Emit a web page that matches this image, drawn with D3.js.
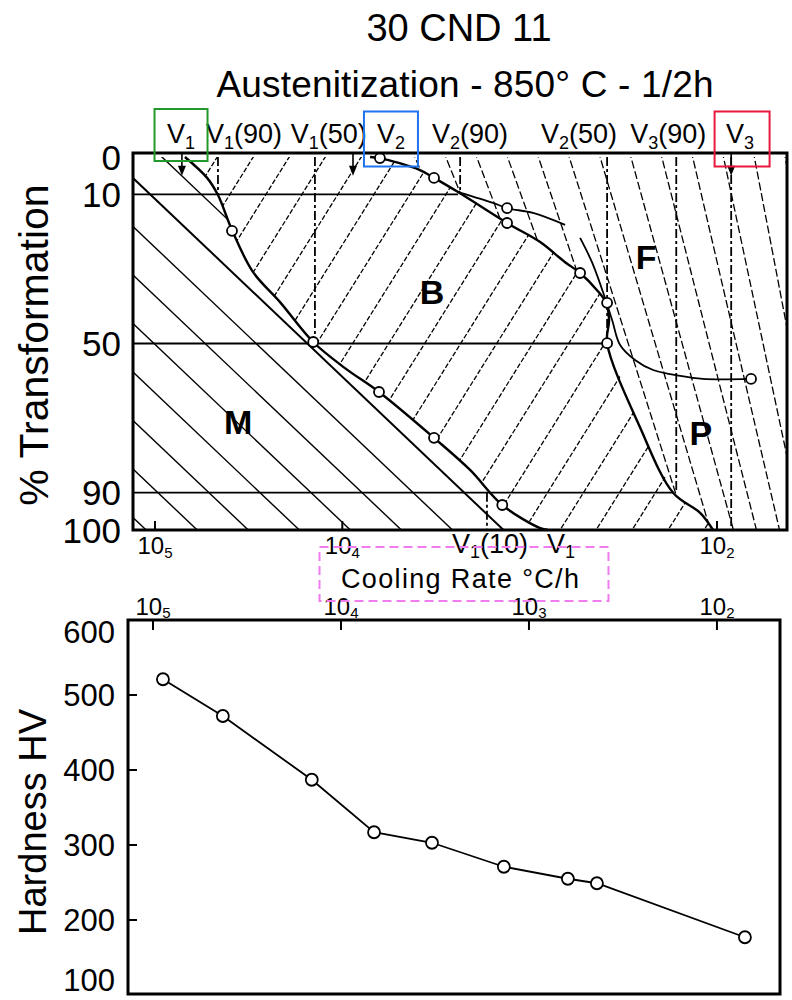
<!DOCTYPE html>
<html>
<head>
<meta charset="utf-8">
<script src="https://cdn.jsdelivr.net/npm/d3@7"></script>
<style>
body { margin: 0; background: #fff; }
text { font-family: "Liberation Sans", Arial, Helvetica, sans-serif; fill: #000; }
</style>
</head>
<body>
<div id="chart"></div>
<script>
// Hardness vs cooling rate (bottom panel)
var hardRates = [88500, 42500, 14300, 6670, 3280, 1360, 621, 435, 71];
var hardValues = [521, 472, 387, 317, 303, 271, 255, 249, 177];

// Transformation curves, [cooling rate °C/h, % transformed]
var mbCurve = [[69200, 0], [52700, 5.6], [46100, 10.2], [38800, 19.6], [30000, 30.8], [21500, 38.9],
    [14300, 49.6], [9680, 56.6], [6370, 63.0], [3240, 75.3], [2080, 83.9], [1400, 93.3], [879, 99.5], [798, 100]];
var bfCurve = [[7110, 0], [6300, 0.3], [3850, 3.5], [3240, 5.6], [2410, 9.4], [1320, 17.7], [879, 22.8],
    [647, 28.2], [538, 31.1], [437, 35.7], [391, 39.1], [377, 43.7], [386, 49.9], [258, 72.4], [171, 90.1],
    [123, 95.4], [105, 100]];
var fStartCurve = [[2410, 9.4], [1570, 12.3], [1320, 13.7], [960, 15.0], [647, 18.2]];
var fpCurve = [[538, 21.7], [465, 28.2], [406, 36.2], [363, 43.7], [329, 50.4], [274, 54.4], [219, 57.1],
    [157, 58.7], [119, 59.5], [65.8, 59.5]];

// Measured points on the curves
var pointRates = [6300, 3240, 1320, 1320, 538, 386, 386, 65.8, 38800, 14300, 6370, 3240, 1400];
var pointPct = [0.3, 5.6, 13.7, 17.7, 31.1, 39.1, 49.9, 59.5, 19.8, 49.6, 63.0, 75.3, 93.3];

// Iso-transformation lines
var isoPct = [10, 50, 90];
var isoEndRate = [2410, 386, 171];

// Critical cooling rates (dashed verticals)
var critRates = [46100, 14000, 2350, 386, 165, 84, 1690];
var critFrom = [0, 0, 0, 0, 0, 0, 90];
var critTo = [10, 50, 10, 50, 90, 100, 100];
var arrowRates = [71800, 8770, 84];

// Labels
var topLabelRates = [72600, 33500, 11800, 5500, 2080, 545, 182, 75.3];
var topLabelSub = ["1", "1", "1", "2", "2", "2", "3", "3"];
var topLabelTail = ["", "(90)", "(50)", "", "(90)", "(50)", "(90)", ""];
var botLabelRates = [1630, 680];
var botLabelSub = ["1", "1"];
var botLabelTail = ["(10)", ""];

var phaseNames = ["M", "B", "F", "P"];
var phaseRates = [36000, 3320, 239, 122];
var phasePct = [71, 36.2, 26.8, 74];

var pctTicks = [0, 10, 50, 90, 100];
var hvTicks = [600, 500, 400, 300, 200, 100];
var rateTicksTop = [1e5, 1e4, 1e2];
var rateTicksBot = [1e5, 1e4, 1e3, 1e2];

var svgWidth = 792, svgHeight = 1000;
var svg = d3.select("#chart").append("svg")
    .attr("width", svgWidth)
    .attr("height", svgHeight);

// Scales
var xTop = d3.scaleLog().domain([131000, 42.3]).range([133, 787]);
var yTop = d3.scaleLinear().domain([0, 100]).range([157, 530]);
var xBot = d3.scaleLog().domain([135800, 46.2]).range([128, 780]);
var yBot = d3.scaleLinear().domain([100, 600]).range([995, 620]);

var rMin = xTop.domain()[0], rMax = xTop.domain()[1];

// Titles
svg.append("text").attr("x", 459).attr("y", 41).attr("text-anchor", "middle")
    .style("font-size", "38px").text("30 CND 11");
svg.append("text").attr("x", 465).attr("y", 97).attr("text-anchor", "middle")
    .style("font-size", "37px").attr("textLength", 497)
    .text("Austenitization - 850° C - 1/2h");

svg.append("text").attr("transform", "translate(48,345) rotate(-90)")
    .attr("text-anchor", "middle").style("font-size", "41px").text("% Transformation");
svg.append("text").attr("transform", "translate(46,822) rotate(-90)")
    .attr("text-anchor", "middle").style("font-size", "38px").text("Hardness HV");

// ---------- top panel ----------
var topG = svg.append("g");
var line = d3.line().x(d => xTop(d[0])).y(d => yTop(d[1]));
var smooth = d3.line().x(d => xTop(d[0])).y(d => yTop(d[1])).curve(d3.curveCatmullRom);

// region polygons for hatching
var mRegion = [[rMin, 0]].concat(mbCurve, [[rMin, 100]]);
var bRegion = mbCurve.slice().reverse().concat(bfCurve);
var fRegion = bfCurve.concat([[rMax, 100], [rMax, 0]]);

var defs = svg.append("defs");
[["clipM", mRegion], ["clipB", bRegion], ["clipF", fRegion]].forEach(function(c) {
    defs.append("clipPath").attr("id", c[0]).append("path").attr("d", line(c[1]) + "Z");
});

// M hatch: parallel lines down to the right
var hM = topG.append("g").attr("clip-path", "url(#clipM)");
hM.selectAll("line").data(d3.range(-8, 9)).enter().append("line")
    .attr("x1", 133).attr("y1", k => 178 + 48.5 * k)
    .attr("x2", 800).attr("y2", k => 178 + 48.5 * k + 0.95 * (800 - 133))
    .attr("stroke", "#000").attr("stroke-width", k => k === 0 ? 2 : 1.4);

// B hatch: lines rising to the right
var hB = topG.append("g").attr("clip-path", "url(#clipB)");
hB.selectAll("line").data(d3.range(-6, 18)).enter().append("line")
    .attr("x1", k => 209 + 36 * k - (150 - 343) / 1.6).attr("y1", 150)
    .attr("x2", k => 209 + 36 * k - (535 - 343) / 1.6).attr("y2", 535)
    .attr("stroke", "#000").attr("stroke-width", 1.3).attr("stroke-dasharray", "5,2");

// F and P hatch: steep lines fanning out
var hF = topG.append("g").attr("clip-path", "url(#clipF)");
hF.selectAll("line").data(d3.range(-6, 14)).enter().append("line")
    .attr("x1", k => 443 + 31 * k).attr("y1", 150)
    .attr("x2", k => { var xt = 443 + 31 * k; return xt + (535 - 150) * (1037 - xt) / 1485; })
    .attr("y2", 535)
    .attr("stroke", "#000").attr("stroke-width", 1.3).attr("stroke-dasharray", "8,3");

// iso-% lines
topG.selectAll(".iso").data(isoPct).enter().append("line")
    .attr("x1", 133).attr("x2", (d, i) => xTop(isoEndRate[i]))
    .attr("y1", d => yTop(d)).attr("y2", d => yTop(d))
    .attr("stroke", "#000").attr("stroke-width", 1.8);

// critical cooling rates
topG.selectAll(".crit").data(critRates).enter().append("line")
    .attr("x1", d => xTop(d)).attr("x2", d => xTop(d))
    .attr("y1", (d, i) => yTop(critFrom[i])).attr("y2", (d, i) => yTop(critTo[i]))
    .attr("stroke", "#000").attr("stroke-width", 1.8).attr("stroke-dasharray", "9,3,3,3");

// arrows
arrowRates.forEach(function(r) {
    var x = xTop(r), tip = yTop(5);
    topG.append("line").attr("x1", x).attr("x2", x).attr("y1", 153).attr("y2", tip - 6)
        .attr("stroke", "#000").attr("stroke-width", 1.6);
    topG.append("path").attr("d", `M${x - 4},${tip - 10}L${x + 4},${tip - 10}L${x},${tip}Z`).attr("fill", "#000");
});

// curves
[[mbCurve, 2.4], [bfCurve, 2.4], [fStartCurve, 1.8], [fpCurve, 1.8]].forEach(function(c) {
    topG.append("path").attr("d", smooth(c[0])).attr("fill", "none")
        .attr("stroke", "#000").attr("stroke-width", c[1]);
});

topG.selectAll(".pt").data(pointRates).enter().append("circle")
    .attr("cx", d => xTop(d)).attr("cy", (d, i) => yTop(pointPct[i])).attr("r", 5)
    .attr("fill", "#fff").attr("stroke", "#000").attr("stroke-width", 1.8);

// phase letters
topG.selectAll(".ph").data(phaseNames).enter().append("text")
    .attr("x", (d, i) => xTop(phaseRates[i])).attr("y", (d, i) => yTop(phasePct[i]))
    .attr("dy", "0.36em").attr("text-anchor", "middle")
    .style("font-size", "34px").style("font-weight", "bold").text(d => d);

// frame
topG.append("rect").attr("x", 133).attr("y", 153).attr("width", 787 - 133).attr("height", 530 - 153)
    .attr("fill", "none").attr("stroke", "#000").attr("stroke-width", 3);

// y tick labels
topG.selectAll(".yl").data(pctTicks).enter().append("text")
    .attr("x", 121).attr("y", d => yTop(d)).attr("dy", "0.36em").attr("text-anchor", "end")
    .style("font-size", "35px").text(d => d);

// 10^n labels, exponent drawn low as in the source
function expLabel(sel, scale, y, drop) {
    sel.enter().append("text")
        .attr("x", d => scale(d)).attr("y", y).attr("text-anchor", "middle")
        .style("font-size", "24px")
        .each(function(d) {
            var t = d3.select(this);
            t.append("tspan").text("10");
            t.append("tspan").attr("dy", drop).style("font-size", "15px").text(Math.round(Math.log10(d)));
        });
}
topG.selectAll(".xt").data(rateTicksTop).enter().append("line")
    .attr("x1", d => xTop(d)).attr("x2", d => xTop(d)).attr("y1", 530).attr("y2", 521)
    .attr("stroke", "#000").attr("stroke-width", 2);
expLabel(topG.selectAll(".xl").data(rateTicksTop), xTop, 554, 4);

// V labels
function vLabel(g, x, y, sub, tail, drop) {
    var t = g.append("text").attr("x", x).attr("y", y).attr("text-anchor", "middle").style("font-size", "27px");
    t.append("tspan").text("V");
    t.append("tspan").attr("dy", drop).style("font-size", "18px").text(sub);
    if (tail) t.append("tspan").attr("dy", -drop).text(tail);
    return t;
}
var topLabels = topLabelRates.map((r, i) => vLabel(topG, xTop(r), 143, topLabelSub[i], topLabelTail[i], 6));
botLabelRates.forEach((r, i) => vLabel(topG, xTop(r), 553, botLabelSub[i], botLabelTail[i], 5));

var coolLabel = svg.append("text").attr("x", 460).attr("y", 588).attr("text-anchor", "middle")
    .style("font-size", "27px").attr("textLength", 238).text("Cooling Rate °C/h");

// ---------- bottom panel ----------
var botG = svg.append("g");
botG.append("rect").attr("x", 128).attr("y", 620).attr("width", 780 - 128).attr("height", 994 - 620)
    .attr("fill", "none").attr("stroke", "#000").attr("stroke-width", 3);

botG.selectAll(".xt").data(rateTicksBot).enter().append("line")
    .attr("x1", d => xBot(d)).attr("x2", d => xBot(d)).attr("y1", 620).attr("y2", 630)
    .attr("stroke", "#000").attr("stroke-width", 2);
expLabel(botG.selectAll(".xl").data(rateTicksBot), xBot, 615, 3);

botG.selectAll(".yt").data(hvTicks.slice(1, 5)).enter().append("line")
    .attr("x1", 128).attr("x2", 137).attr("y1", d => yBot(d)).attr("y2", d => yBot(d))
    .attr("stroke", "#000").attr("stroke-width", 2);
botG.selectAll(".yl").data(hvTicks).enter().append("text")
    .attr("x", 115).attr("y", d => yBot(d))
    .attr("dy", d => d === 600 ? "0.75em" : d === 100 ? "-0.12em" : "0.36em")
    .attr("text-anchor", "end").style("font-size", "31px").text(d => d);

var hvLine = d3.line().x((d, i) => xBot(hardRates[i])).y(d => yBot(d));
botG.append("path").attr("d", hvLine(hardValues)).attr("fill", "none")
    .attr("stroke", "#000").attr("stroke-width", 1.8);
botG.selectAll("circle").data(hardValues).enter().append("circle")
    .attr("cx", (d, i) => xBot(hardRates[i])).attr("cy", d => yBot(d)).attr("r", 6)
    .attr("fill", "#fff").attr("stroke", "#000").attr("stroke-width", 1.8);

// ---------- highlight boxes ----------
function box(el, w, h, dx, dy, color, dash) {
    var b = el.node().getBBox();
    var cx = b.x + b.width / 2 + dx, cy = b.y + b.height / 2 + dy;
    svg.append("rect").attr("x", cx - w / 2).attr("y", cy - h / 2).attr("width", w).attr("height", h)
        .attr("fill", "none").attr("stroke", color).attr("stroke-width", 2)
        .attr("stroke-dasharray", dash || null);
}
box(topLabels[0], 53, 52, 0, -1, "#22992a");
box(topLabels[3], 54, 55, 0, 3, "#1f74ee");
box(topLabels[7], 55, 55, 2, 3, "#e8193c");
box(coolLabel, 289, 54, 4, -5, "#f07cf0", "9,5");
</script>
</body>
</html>
